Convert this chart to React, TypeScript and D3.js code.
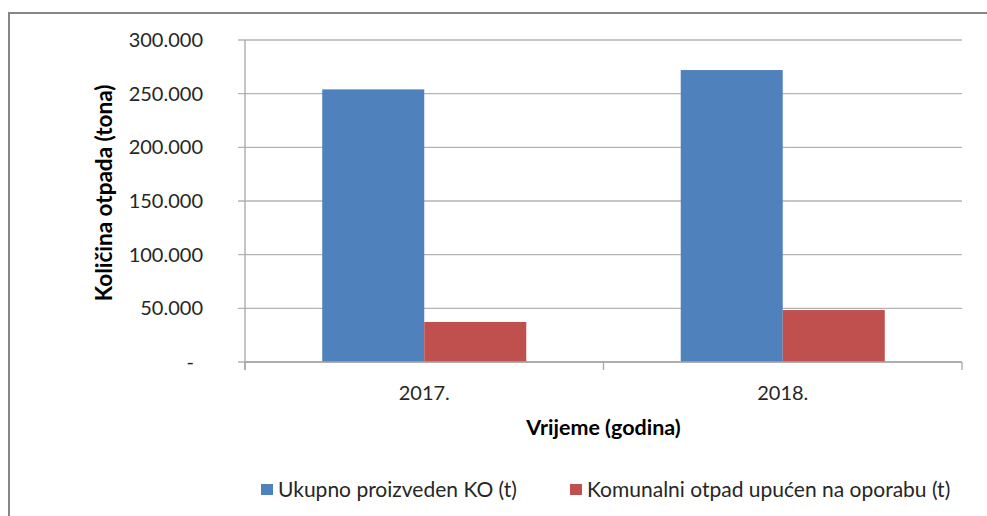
import React from "react";
import * as d3 from "d3";

const categories = ["2017.", "2018."];
const seriesNames = ["Ukupno proizveden KO (t)", "Komunalni otpad upućen na oporabu (t)"];
const seriesColors = ["#4F81BD", "#C0504D"];
const ukupno = [254000, 272000];
const oporaba = [37300, 48400];
const yTicks = [0, 50000, 100000, 150000, 200000, 250000, 300000];

const W = 987;
const H = 516;
const FONT = "Lato, 'Open Sans', sans-serif";

export default function App() {
  const left = 245, right = 962, top = 40, bottom = 362;
  const y = d3.scaleLinear().domain([0, 300000]).range([bottom, top]);
  const x0 = d3.scaleBand<string>().domain(categories).range([left, right]);
  const x1 = d3
    .scaleBand<string>()
    .domain(seriesNames)
    .range([0, x0.bandwidth()])
    .paddingInner(0)
    .paddingOuter(0.757);
  const loc = d3.formatLocale({ decimal: ",", thousands: ".", grouping: [3], currency: ["", ""] });
  const fmt = loc.format(",d");
  const values = [ukupno, oporaba];

  return (
    <svg
      width={W}
      height={H}
      style={{ position: "absolute", left: 0, top: 0, background: "#fff" }}
    >
      <rect x={9} y={13} width={W + 20} height={H + 20} fill="#fff" stroke="#868686" strokeWidth={2} />
      {yTicks.map((t) => (
        <line key={t} x1={238} x2={right} y1={y(t)} y2={y(t)} stroke="#b3b3b3" strokeWidth={1.3} />
      ))}
      {categories.map((c, ci) =>
        seriesNames.map((s, si) => (
          <rect
            key={c + s}
            x={(x0(c) as number) + (x1(s) as number)}
            y={y(values[si][ci])}
            width={x1.bandwidth()}
            height={bottom - y(values[si][ci])}
            fill={seriesColors[si]}
          />
        ))
      )}
      <line x1={left} x2={left} y1={top} y2={bottom + 8} stroke="#a6a6a6" strokeWidth={1.3} />
      <line x1={left} x2={right} y1={bottom} y2={bottom} stroke="#a6a6a6" strokeWidth={1.3} />
      {[left, ...categories.map((c) => (x0(c) as number) + x0.bandwidth())].map((xx, i) => (
        <line key={i} x1={xx} x2={xx} y1={bottom} y2={bottom + 8} stroke="#a6a6a6" strokeWidth={1.3} />
      ))}
      {yTicks.map((t) => (
        <text
          key={t}
          x={t === 0 ? 194 : 203}
          y={y(t)}
          dy="0.35em"
          textAnchor="end"
          fontFamily={FONT}
          fontSize={20}
          fill="#262626"
        >
          {t === 0 ? "-" : fmt(t)}
        </text>
      ))}
      {categories.map((c) => (
        <text
          key={c}
          x={(x0(c) as number) + x0.bandwidth() / 2}
          y={400}
          textAnchor="middle"
          fontFamily={FONT}
          fontSize={20}
          fill="#262626"
        >
          {c}
        </text>
      ))}
      <text
        x={(left + right) / 2}
        y={435}
        textAnchor="middle"
        fontFamily={FONT}
        fontSize={21.5}
        fontWeight="bold"
        fill="#000"
      >
        Vrijeme (godina)
      </text>
      <text
        transform={`translate(112, 193) rotate(-90)`}
        textAnchor="middle"
        fontFamily={FONT}
        fontSize={22.5}
        fontWeight="bold"
        fill="#000"
      >
        Količina otpada (tona)
      </text>
      {[261, 570].map((lx, i) => (
        <g key={i}>
          <rect x={lx} y={484} width={12} height={11} fill={seriesColors[i]} />
          <text x={lx + 17} y={497} fontFamily={FONT} fontSize={21} fill="#262626">
            {seriesNames[i]}
          </text>
        </g>
      ))}
    </svg>
  );
}
